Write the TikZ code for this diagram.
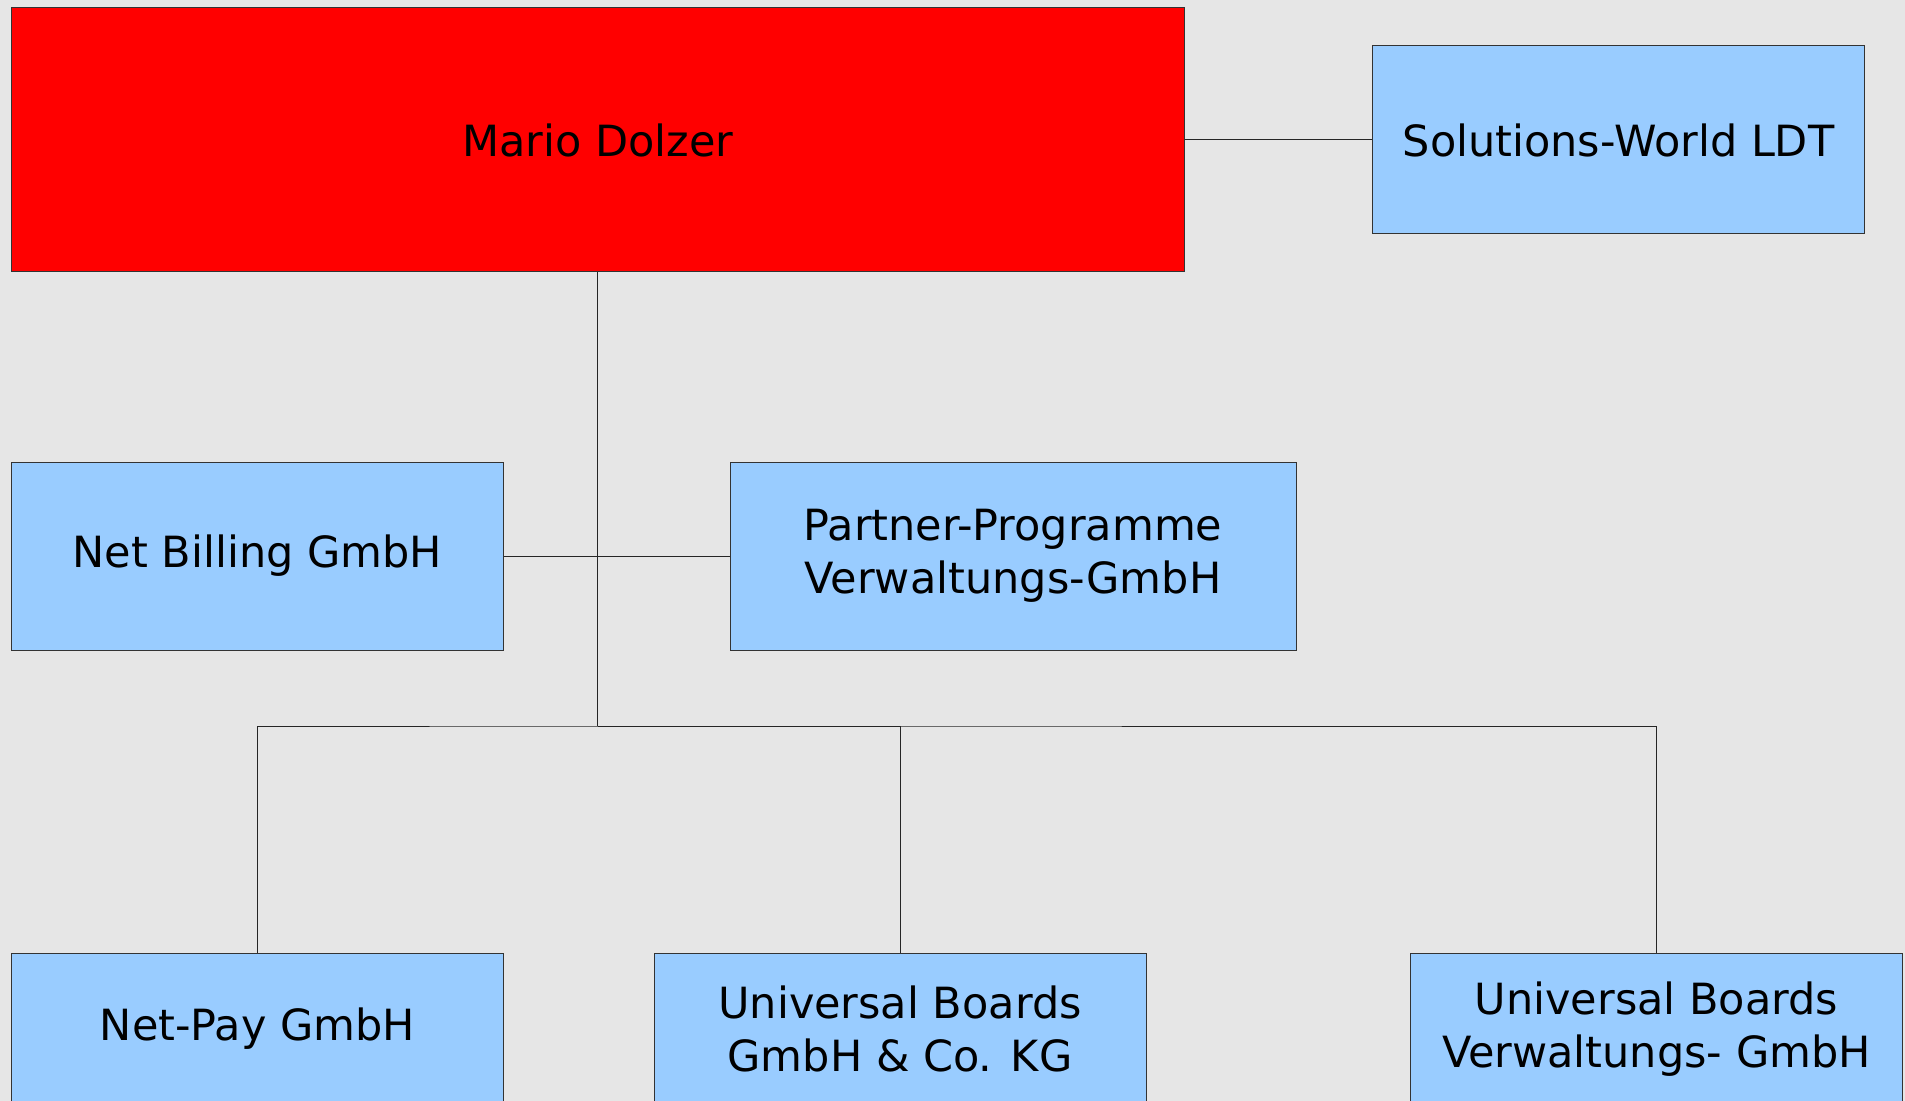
\documentclass[tikz,border=0pt]{standalone}
\usepackage{fontspec}
\setmainfont{DejaVu Sans}
\definecolor{boxblue}{HTML}{99CCFF}
\definecolor{canvas}{HTML}{E6E6E6}
\tikzset{
  orgbox/.style={draw=black!80, line width=0.5pt, fill=boxblue, minimum width=246pt,
    minimum height=94pt, align=center, inner sep=0pt, font=\fontsize{21.5}{26.5}\selectfont},
  ownerbox/.style={orgbox, fill=red, minimum width=586.25pt, minimum height=132pt},
  lowbox/.style={orgbox, minimum height=76pt},
  link/.style={draw=black!85, line width=0.5pt}
}

\begin{document}
\begin{tikzpicture}[x=0.5pt,y=-0.5pt]
    \fill[canvas] (0,0) rectangle (1905,1101);
    \useasboundingbox (0,0) rectangle (1905,1101);

    \node[ownerbox] at (597.75,140) (mario) {Mario Dolzer};
    \node[orgbox] at (1618.5,140) (solutions) {Solutions-World LDT};
    \node[orgbox] at (257.5,556) (netbilling) {Net Billing GmbH};
    \node[orgbox, minimum width=283pt] at (1013,556) (partner) {Partner-Programme\\Verwaltungs-GmbH};
    \node[lowbox] at (257.5,1029) (netpay) {Net-Pay GmbH};
    \node[lowbox] at (900,1029) (ubkg) {Universal Boards\\GmbH \& Co. KG};
    \node[lowbox] at (1656.5,1029) (ubverw) {Universal Boards\\Verwaltungs- GmbH};

    \coordinate (bus) at (597.75,726);

    \draw[link] (mario) -- (solutions);
    \draw[link] (netbilling) -- (partner);
    \draw[link] (mario) -- (bus);
    \draw[link] (netpay.north) |- (bus) -| (ubverw.north);
    \draw[link] (bus) -| (ubkg.north);
  \end{tikzpicture}
\end{document}
